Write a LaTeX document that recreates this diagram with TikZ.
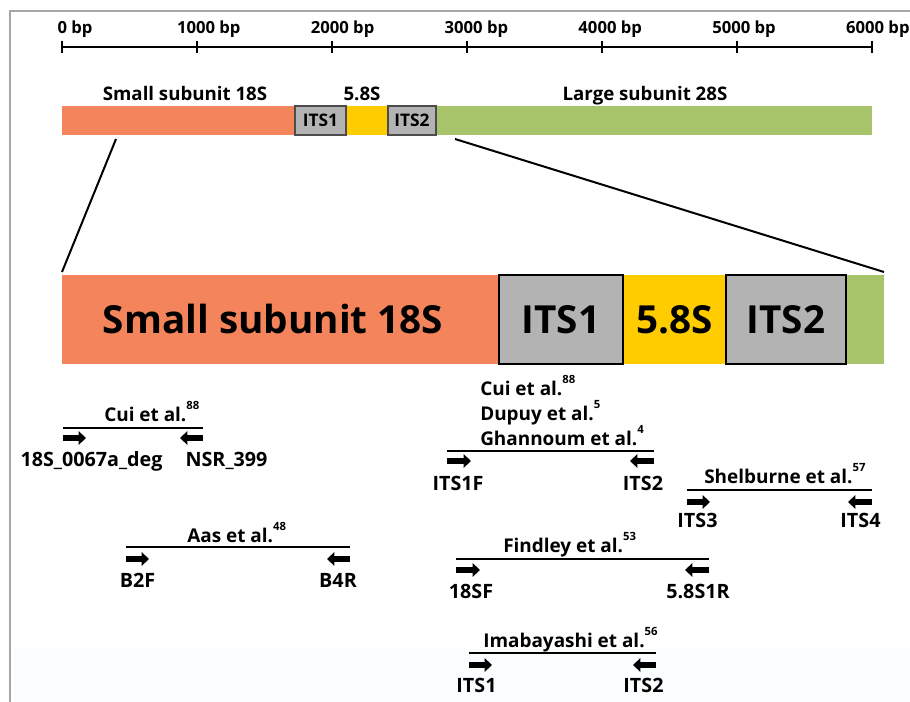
\documentclass[tikz,border=0pt]{standalone}
\usepackage{fontspec}
\setmainfont{Open Sans}
\usetikzlibrary{arrows.meta}
\definecolor{ssu}{HTML}{F4845B}
\definecolor{fiveeight}{HTML}{FFCC00}
\definecolor{lsu}{HTML}{A8C46B}
\definecolor{itsgray}{HTML}{B3B3B3}
\definecolor{framegray}{HTML}{A6A6A6}
\definecolor{tint}{HTML}{FAFDFE}
\newcommand\refnum[1]{\raisebox{0.62em}{\fontsize{8.5}{9}\selectfont #1}}
\begin{document}
\begin{tikzpicture}[x=0.75pt,y=-0.75pt,
  axislab/.style={font=\bfseries\fontsize{12.5}{14}\selectfont, inner sep=0, anchor=base},
  barlab/.style={font=\bfseries\fontsize{14}{16}\selectfont, inner sep=0, anchor=base},
  boxlab/.style={font=\bfseries\fontsize{13}{15}\selectfont, inner sep=0, anchor=base},
  biglab/.style={font=\bfseries\fontsize{29}{32}\selectfont, inner sep=0, anchor=base},
  author/.style={font=\bfseries\fontsize{14.2}{16}\selectfont, inner sep=0, anchor=base west},
  primerlab/.style={font=\bfseries\fontsize{14.8}{16}\selectfont, inner sep=0, anchor=base},
  span/.style={line width=1.1pt},
  primer/.style={line width=4.5pt, -{Triangle[length=5.5pt,width=10pt]}},
  smallbox/.style={draw=black!70, line width=0.8pt, fill=itsgray},
  bigbox/.style={draw=black, line width=2.2pt, fill=itsgray},
  zoomline/.style={line width=1.5pt},
]
\useasboundingbox (0,0) rectangle (910,702);
\fill[white] (0,0) rectangle (910,702);
\fill[tint] (14,649) rectangle (910,702);
\draw[framegray, line width=1.2pt] (10,702) -- (10,11) -- (910,11);

% scale axis
\draw[line width=1pt] (62,47) -- (872,47);
\foreach \i in {0,...,6} {
  \draw[line width=0.8pt] (62+135*\i,41) -- (62+135*\i,53);
  \node[axislab] (ax\i) at (75+133.8*\i,34) {\pgfmathparse{int(1000*\i)}\pgfmathresult\ bp};
}

% overview bar
\fill[ssu] (62,106) rectangle (295,135);
\fill[fiveeight] (346,106) rectangle (388,135);
\fill[lsu] (436,106) rectangle (872,135);
\draw[smallbox] (295,106) rectangle (346,135);
\draw[smallbox] (388,106) rectangle (436,135);
\node[boxlab] (tits1) at (320.5,127) {ITS1};
\node[boxlab] (tits2) at (412,127) {ITS2};
\node[barlab] (tssu) at (185,101) {Small subunit 18S};
\node[barlab] (t58) at (362,101) {5.8S};
\node[barlab] (tlsu) at (645,101) {Large subunit 28S};

% zoom lines
\coordinate (zl1) at (116,139);
\coordinate (zl2) at (62,272);
\coordinate (zr1) at (455,139);
\coordinate (zr2) at (884,272);
\draw[zoomline] (zl1) -- (zl2);
\draw[zoomline] (zr1) -- (zr2);

% detailed bar
\fill[ssu] (62,275) rectangle (499,364);
\fill[fiveeight] (623,275) rectangle (726,364);
\fill[lsu] (846,275) rectangle (884,364);
\draw[bigbox] (499,275) rectangle (623,364);
\draw[bigbox] (726,275) rectangle (846,364);
\node[biglab] (bssu) at (273,334) {Small subunit 18S};
\node[biglab] (bits1) at (561,334) {ITS1};
\node[biglab] (b58) at (674.5,334) {5.8S};
\node[biglab] (bits2) at (786,334) {ITS2};

% primer group: Cui (18S)
\node[author] (cuiA) at (104,421) {Cui et al.\refnum{88}};
\draw[span] (63,428) -- (203,428);
\coordinate (p1a) at (63,438); \coordinate (p1b) at (86,438);
\coordinate (p1c) at (203,438); \coordinate (p1d) at (180,438);
\draw[primer] (p1a) -- (p1b);
\draw[primer] (p1c) -- (p1d);
\node[primerlab] (l18s) at (91.5,466) {18S\_0067a\_deg};
\node[primerlab] (lnsr) at (226.5,466) {NSR\_399};

% Aas
\node[author] (aas) at (187,542) {Aas et al.\refnum{48}};
\draw[span] (126,547) -- (350,547);
\coordinate (p2a) at (126,559); \coordinate (p2b) at (149,559);
\coordinate (p2c) at (350,559); \coordinate (p2d) at (327,559);
\draw[primer] (p2a) -- (p2b);
\draw[primer] (p2c) -- (p2d);
\node[primerlab] (lb2f) at (137.5,587) {B2F};
\node[primerlab] (lb4r) at (338,587) {B4R};

% Cui / Dupuy / Ghannoum
\node[author] (cuiB) at (480,395) {Cui et al.\refnum{88}};
\node[author] (dupuy) at (480,420) {Dupuy et al.\refnum{5}};
\node[author] (ghan) at (480,445) {Ghannoum et al.\refnum{4}};
\draw[span] (447,451) -- (654,451);
\coordinate (p3a) at (447,461); \coordinate (p3b) at (471,461);
\coordinate (p3c) at (654,461); \coordinate (p3d) at (630,461);
\draw[primer] (p3a) -- (p3b);
\draw[primer] (p3c) -- (p3d);
\node[primerlab] (lits1f) at (458,490) {ITS1F};
\node[primerlab] (lits2a) at (643,490) {ITS2};

% Shelburne
\node[author] (shel) at (704,483) {Shelburne et al.\refnum{57}};
\draw[span] (687,490) -- (872,490);
\coordinate (p4a) at (687,502); \coordinate (p4b) at (710,502);
\coordinate (p4c) at (872,502); \coordinate (p4d) at (848,502);
\draw[primer] (p4a) -- (p4b);
\draw[primer] (p4c) -- (p4d);
\node[primerlab] (lits3) at (697.5,527) {ITS3};
\node[primerlab] (lits4) at (860.5,527) {ITS4};

% Findley
\node[author] (find) at (503,552) {Findley et al.\refnum{53}};
\draw[span] (456,559) -- (709,559);
\coordinate (p5a) at (456,570); \coordinate (p5b) at (480,570);
\coordinate (p5c) at (709,570); \coordinate (p5d) at (685,570);
\draw[primer] (p5a) -- (p5b);
\draw[primer] (p5c) -- (p5d);
\node[primerlab] (l18sf) at (471,598) {18SF};
\node[primerlab] (l58s1r) at (698,598) {5.8S1R};

% Imabayashi
\node[author] (ima) at (483,647) {Imabayashi et al.\refnum{56}};
\draw[span] (469,653) -- (656,653);
\coordinate (p6a) at (469,665); \coordinate (p6b) at (492,665);
\coordinate (p6c) at (656,665); \coordinate (p6d) at (633,665);
\draw[primer] (p6a) -- (p6b);
\draw[primer] (p6c) -- (p6d);
\node[primerlab] (lits1) at (476.5,692) {ITS1};
\node[primerlab] (lits2b) at (643.5,692) {ITS2};
\end{tikzpicture}
\end{document}
